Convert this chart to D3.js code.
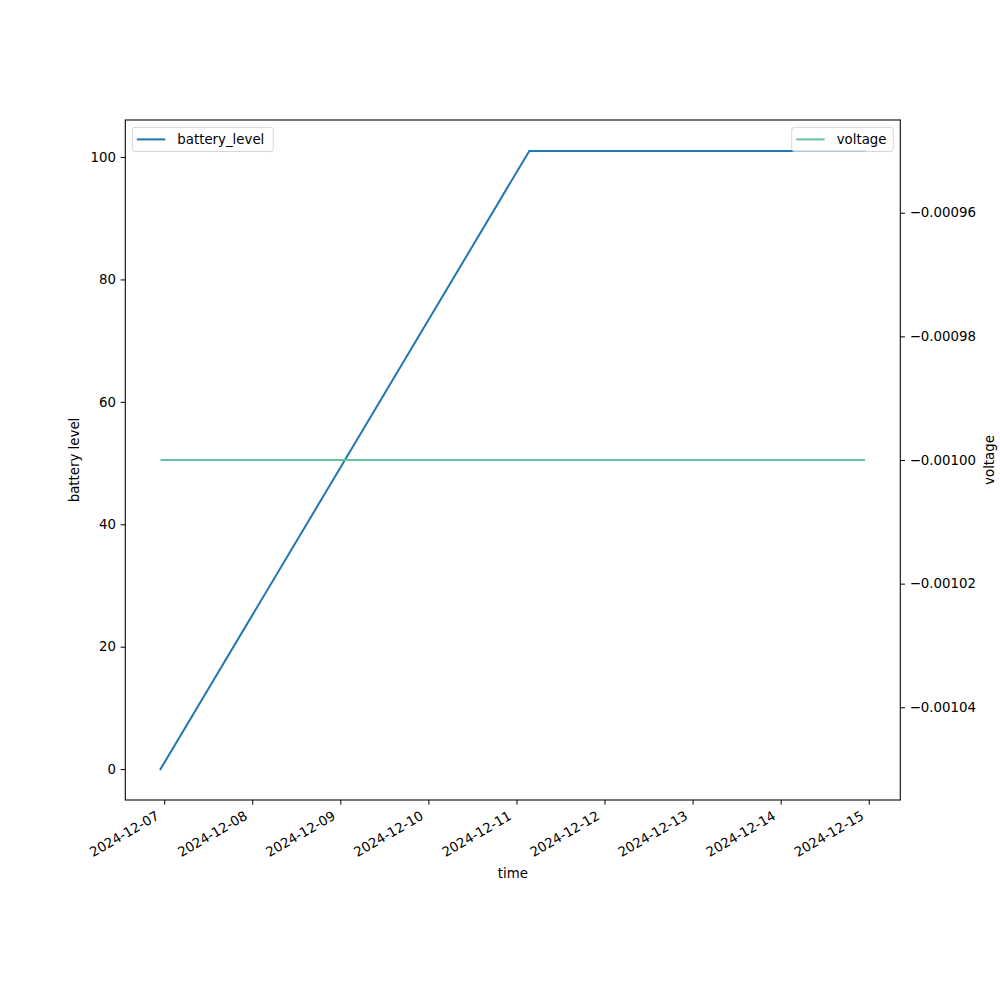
<!DOCTYPE html>
<html>
<head>
<meta charset="utf-8">
<script src="https://cdn.jsdelivr.net/npm/d3@7"></script>
<style>
  html, body { margin: 0; padding: 0; background: #fff; }
  svg { display: block; font-family: "DejaVu Sans", sans-serif; }
</style>
</head>
<body>
<svg id="chart" width="1000" height="1000"></svg>
<script>
// ---- data ----
const times = ["2024-12-06T23:00", "2024-12-11T03:30", "2024-12-14T23:00"];
const batteryLevel = [0, 101, 101];
const voltage = [-0.001, -0.001, -0.001];
const xTickLabels = ["2024-12-07", "2024-12-08", "2024-12-09", "2024-12-10", "2024-12-11",
                     "2024-12-12", "2024-12-13", "2024-12-14", "2024-12-15"];
const leftTicks = [0, 20, 40, 60, 80, 100];
const rightTicks = [-0.00104, -0.00102, -0.00100, -0.00098, -0.00096];
const seriesNames = ["battery_level", "voltage"];
const colors = ["#1f77b4", "#66c2a5"];

// ---- layout ----
const L = 125.3, R = 900.3, T = 120, B = 800;
const fs = 13.33;
const parse = d3.utcParse("%Y-%m-%dT%H:%M");
const parseDay = d3.utcParse("%Y-%m-%d");
const tData = times.map(parse);

const svg = d3.select("#chart");

// x scale with 5% margins
const t0 = tData[0].getTime(), t1 = tData[tData.length - 1].getTime();
const pad = (t1 - t0) * 0.05;
const x = d3.scaleUtc().domain([new Date(t0 - pad), new Date(t1 + pad)]).range([L, R]);

// left y with margins
const bMin = d3.min(batteryLevel), bMax = d3.max(batteryLevel);
const bPad = (bMax - bMin) * 0.05;
const yL = d3.scaleLinear().domain([bMin - bPad, bMax + bPad]).range([B, T]);

// right y: constant data -> expanded like matplotlib
const v = voltage[0];
const vLo = v - Math.abs(v) * 0.05, vHi = v + Math.abs(v) * 0.05;
const vPad = (vHi - vLo) * 0.05;
const yR = d3.scaleLinear().domain([vLo - vPad, vHi + vPad]).range([B, T]);

const tickLen = 4.67, tickPad = 4.67;

// ---- ax1 line ----
const lineB = d3.line().x((d, i) => x(tData[i])).y(d => yL(d));
svg.append("path").datum(batteryLevel)
  .attr("d", lineB).attr("fill", "none")
  .attr("stroke", colors[0]).attr("stroke-width", 2)
  .attr("stroke-linecap", "square");

// ---- ax1 left axis ----
const gL = svg.append("g").attr("transform", `translate(${L},0)`)
  .call(d3.axisLeft(yL).tickValues(leftTicks).tickSize(tickLen).tickPadding(tickPad).tickFormat(d3.format("d")));
gL.select(".domain").remove();
gL.selectAll("line").attr("stroke", "#000").attr("stroke-width", 1);
gL.selectAll("text").attr("font-size", fs).attr("fill", "#000").attr("font-family", "DejaVu Sans");

// ---- x axis ----
const gX = svg.append("g").attr("transform", `translate(0,${B})`)
  .call(d3.axisBottom(x).tickValues(xTickLabels.map(parseDay)).tickSize(tickLen).tickFormat(d3.utcFormat("%Y-%m-%d")));
gX.select(".domain").remove();
gX.selectAll("line").attr("stroke", "#000").attr("stroke-width", 1);
gX.selectAll("text")
  .attr("font-size", fs).attr("fill", "#000").attr("font-family", "DejaVu Sans")
  .attr("y", 0).attr("dy", 0)
  .attr("text-anchor", "end")
  .attr("transform", `translate(-4.5,${tickLen + tickPad + 9.2}) rotate(-30)`);

// ---- legend helper ----
function legend(g, x0, y0, w, h, name, color) {
  g.append("rect").attr("x", x0).attr("y", y0).attr("width", w).attr("height", h)
    .attr("rx", 2.7).attr("fill", "#fff").attr("fill-opacity", 0.8)
    .attr("stroke", "#cccccc").attr("stroke-opacity", 0.8).attr("stroke-width", 1);
  g.append("line").attr("x1", x0 + 4.5).attr("x2", x0 + 33).attr("y1", y0 + h / 2).attr("y2", y0 + h / 2)
    .attr("stroke", color).attr("stroke-width", 2);
  g.append("text").attr("x", x0 + 45).attr("y", y0 + h / 2 + 4.8)
    .attr("font-size", fs).attr("fill", "#000").text(name);
}
legend(svg.append("g"), 132.3, 127.3, 141, 24.2, seriesNames[0], colors[0]);

// ---- ax2 line ----
const lineV = d3.line().x((d, i) => x(tData[i])).y(d => yR(d));
svg.append("path").datum(voltage)
  .attr("d", lineV).attr("fill", "none")
  .attr("stroke", colors[1]).attr("stroke-width", 2);

// ---- right axis ----
const gR = svg.append("g").attr("transform", `translate(${R},0)`)
  .call(d3.axisRight(yR).tickValues(rightTicks).tickSize(tickLen).tickPadding(tickPad)
    .tickFormat(d => d3.format(".5f")(d).replace("-", "\u2212")));
gR.select(".domain").remove();
gR.selectAll("line").attr("stroke", "#000").attr("stroke-width", 1);
gR.selectAll("text").attr("font-size", fs).attr("fill", "#000").attr("font-family", "DejaVu Sans");

// ---- spines ----
svg.append("rect").attr("x", L).attr("y", T).attr("width", R - L).attr("height", B - T)
  .attr("fill", "none").attr("stroke", "#000").attr("stroke-width", 1.07);

// ---- ax2 legend ----
legend(svg.append("g"), 791.7, 127.3, 101.6, 24.2, seriesNames[1], colors[1]);

// ---- axis labels ----
svg.append("text").attr("x", (L + R) / 2).attr("y", 878)
  .attr("text-anchor", "middle").attr("font-size", fs).text("time");
svg.append("text").attr("transform", `translate(79,${(T + B) / 2}) rotate(-90)`)
  .attr("text-anchor", "middle").attr("font-size", fs).text("battery level");
svg.append("text").attr("transform", `translate(994,${(T + B) / 2}) rotate(-90)`)
  .attr("text-anchor", "middle").attr("font-size", fs).text("voltage");
</script>
</body>
</html>
